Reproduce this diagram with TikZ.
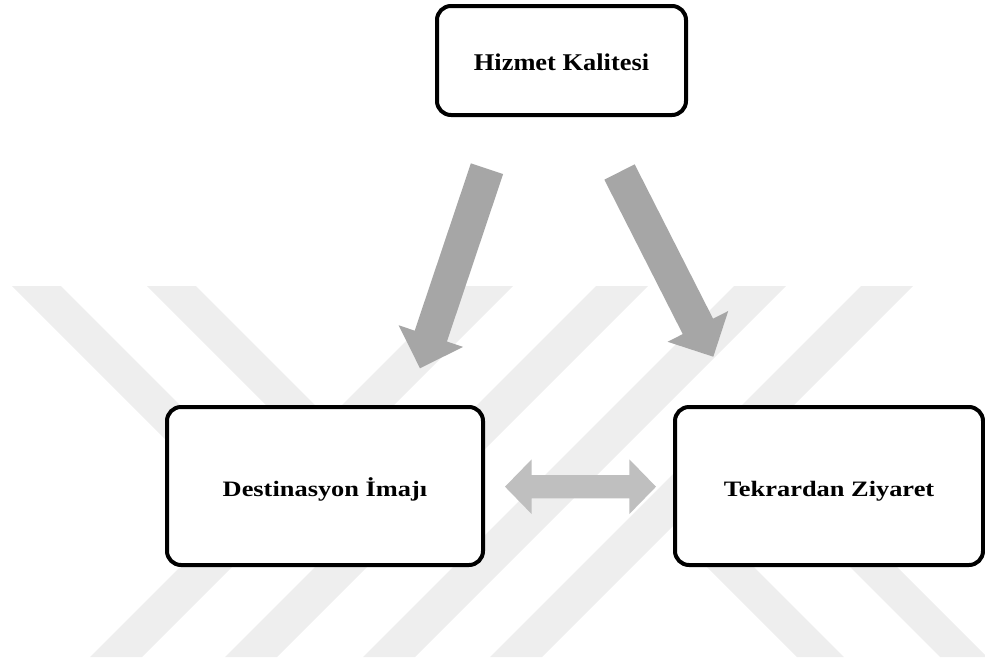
\documentclass[tikz,border=0pt]{standalone}
\usepackage{fontspec}
\usepackage{graphicx}
\setmainfont{Liberation Serif}
\usetikzlibrary{calc}
\definecolor{wm}{HTML}{EEEEEE}
\definecolor{arrdark}{HTML}{A6A6A6}
\definecolor{arrlight}{HTML}{BFBFBF}
% block arrow: #1 tail coord, #2 tip coord, #3 shaft half width, #4 head half width, #5 head length, #6 colour
\newcommand{\blkarrow}[6]{%
  \coordinate (#1b) at ($(#2)!#5!(#1)$);
  \fill[#6] ($(#1)!#3!90:(#2)$) -- ($(#1b)!#3!90:(#2)$) -- ($(#1b)!#4!90:(#2)$) -- (#2)
    -- ($(#1b)!#4!-90:(#2)$) -- ($(#1b)!#3!-90:(#2)$) -- ($(#1)!#3!-90:(#2)$) -- cycle;}
\newcommand{\toptxt}[1]{\scalebox{1.1}[1]{\bfseries\fontsize{24}{28}\selectfont #1}}
\newcommand{\lowtxt}[1]{\scalebox{1.2}[1]{\bfseries\fontsize{22}{26}\selectfont #1}}
\begin{document}
\begin{tikzpicture}[x=1pt,y=-1pt,
  box/.style={draw=black, line width=4pt, rounded corners=14pt, fill=white,
    align=center, inner sep=0pt, text depth=0pt}]
\useasboundingbox (0,0) rectangle (985,662);
% faint watermark stripes
\foreach \x in {90,225,363,490}
  \fill[wm] (\x,657) -- (\x+52,657) -- (\x+423,286) -- (\x+371,286) -- cycle;
\foreach \x in {12,147}
  \fill[wm] (\x,286) -- (\x+49,286) -- (\x+249,486) -- (\x+200,486) -- cycle;
\foreach \x in {797,940}
  \fill[wm] (\x,657) -- (\x+47,657) -- (\x-63,547) -- (\x-110,547) -- cycle;
% boxes
\node[box, minimum width=249pt, minimum height=109pt, text height=19pt] (hk) at (561.5,60.5) {\toptxt{Hizmet Kalitesi}};
\node[box, minimum width=316pt, minimum height=158pt, text height=21.4pt] (di) at (325,486) {\lowtxt{Destinasyon İmajı}};
\node[box, minimum width=308pt, minimum height=158pt, text height=21.4pt] (tz) at (829,486) {\lowtxt{Tekrardan Ziyaret}};
% arrows from Hizmet Kalitesi
\coordinate (t1) at (487,168.7);
\coordinate (h1) at (420,368.3);
\coordinate (t2) at (619.5,172);
\coordinate (h2) at (713.3,356.7);
\blkarrow{t1}{h1}{17pt}{34pt}{34pt}{arrdark}
\blkarrow{t2}{h2}{17pt}{34pt}{34pt}{arrdark}
% double arrow between the lower boxes
\coordinate (dl) at ($(di.east)+(20,0.7)$);
\coordinate (dr) at ($(tz.west)+(-17,0.7)$);
\fill[arrlight] (dl) -- ($(dl)+(26.7,-27.4)$) -- ($(dl)+(26.7,-11.7)$) -- ($(dr)+(-26.7,-11.7)$)
  -- ($(dr)+(-26.7,-27.4)$) -- (dr) -- ($(dr)+(-26.7,27.4)$) -- ($(dr)+(-26.7,11.7)$)
  -- ($(dl)+(26.7,11.7)$) -- ($(dl)+(26.7,27.4)$) -- cycle;
\end{tikzpicture}
\end{document}
